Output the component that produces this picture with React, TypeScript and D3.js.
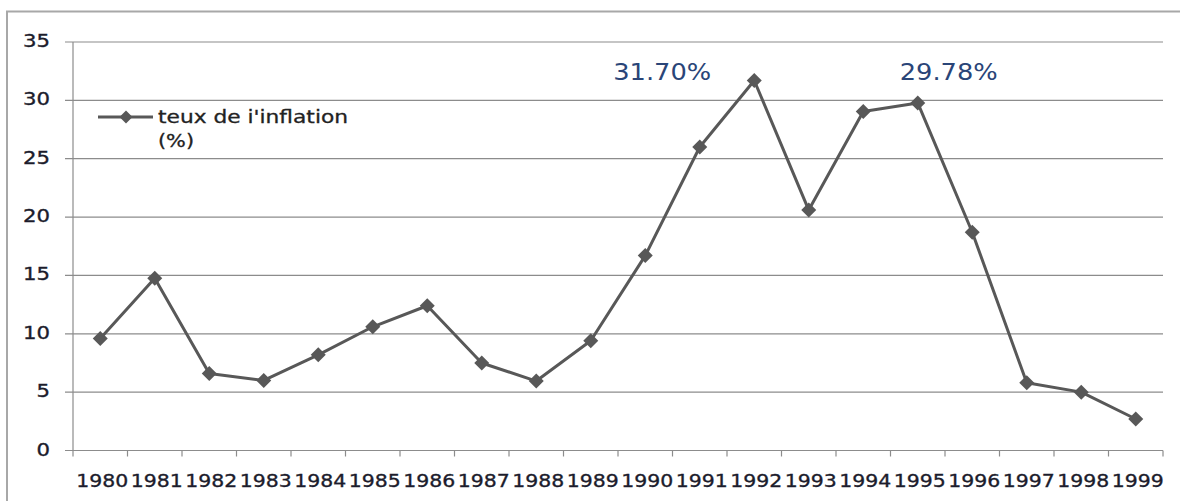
import React from "react";
import * as d3 from "d3";

// Annual inflation rate, 1980–1999
const years = [
  "1980", "1981", "1982", "1983", "1984", "1985", "1986", "1987", "1988", "1989",
  "1990", "1991", "1992", "1993", "1994", "1995", "1996", "1997", "1998", "1999",
];
const inflation = [
  9.6, 14.75, 6.6, 6.0, 8.2, 10.6, 12.4, 7.5, 5.95, 9.4,
  16.7, 26.0, 31.7, 20.6, 29.05, 29.78, 18.7, 5.8, 5.0, 2.7,
];
const yTicks = [0, 5, 10, 15, 20, 25, 30, 35];
const seriesName = ["teux de i'inflation", "(%)"];
// Peak callouts: year index and label text
const callouts = [
  { index: 12, text: "31.70%", dx: -92 },
  { index: 15, text: "29.78%", dx: 31 },
];

const W = 1180;
const H = 501;
const plot = { left: 73, right: 1163, top: 42, bottom: 450.5 };

export default function App() {
  const x = d3
    .scaleBand<string>()
    .domain(years)
    .range([plot.left, plot.right])
    .paddingInner(0)
    .paddingOuter(0);
  const y = d3.scaleLinear().domain([0, 35]).range([plot.bottom, plot.top]);
  const cx = (i: number) => (x(years[i]) as number) + x.bandwidth() / 2;

  const line = d3
    .line<number>()
    .x((_, i) => cx(i))
    .y((d) => y(d));

  const diamond = (px: number, py: number, r: number) =>
    `M${px},${py - r}L${px + r},${py}L${px},${py + r}L${px - r},${py}Z`;

  const grid = "#8c8c8c";
  const seriesColor = "#585858";
  const font = "'DejaVu Sans', Verdana, sans-serif";
  const ink = "#1c1c2c";

  const tickEdges = [...years.map((yr) => x(yr) as number), plot.right];

  return (
    <svg
      width={W}
      height={H}
      style={{ position: "absolute", left: 0, top: 0, background: "#fff" }}
    >
      <rect x={0} y={0} width={W} height={H} fill="#fff" />
      {/* chart frame */}
      <rect
        x={7}
        y={11.5}
        width={W + 20}
        height={H + 20}
        fill="none"
        stroke="#a8a8a8"
        strokeWidth={2}
      />

      {/* horizontal gridlines + y ticks */}
      {yTicks.map((t) => (
        <g key={t}>
          <line
            x1={plot.left - 8}
            x2={plot.right}
            y1={y(t)}
            y2={y(t)}
            stroke={grid}
            strokeWidth={1.2}
          />
          <text
            x={50}
            y={y(t) + 5}
            textAnchor="end"
            fontFamily={font}
            fontSize={18}
            fill={ink}
            stroke={ink}
            strokeWidth={0.35}
            textLength={String(t).length * 13.5}
            lengthAdjust="spacingAndGlyphs"
          >
            {t}
          </text>
        </g>
      ))}

      {/* y axis */}
      <line
        x1={plot.left}
        x2={plot.left}
        y1={plot.top}
        y2={plot.bottom}
        stroke={grid}
        strokeWidth={1.2}
      />

      {/* x ticks */}
      {tickEdges.map((tx, i) => (
        <line
          key={i}
          x1={tx}
          x2={tx}
          y1={plot.bottom}
          y2={plot.bottom + 6}
          stroke={grid}
          strokeWidth={1.2}
        />
      ))}

      {/* x labels */}
      {years.map((yr, i) => (
        <text
          key={yr}
          x={cx(i) + 2}
          y={487}
          textAnchor="middle"
          fontFamily={font}
          fontSize={18}
          fill={ink}
          stroke={ink}
          strokeWidth={0.35}
          textLength={52}
          lengthAdjust="spacingAndGlyphs"
        >
          {yr}
        </text>
      ))}

      {/* series line */}
      <path
        d={line(inflation) || ""}
        fill="none"
        stroke={seriesColor}
        strokeWidth={3}
        strokeLinejoin="round"
      />
      {inflation.map((v, i) => (
        <path key={i} d={diamond(cx(i), y(v), 7.5)} fill={seriesColor} />
      ))}

      {/* peak callouts */}
      {callouts.map((c) => (
        <text
          key={c.text}
          x={cx(c.index) + c.dx}
          y={80}
          textAnchor="middle"
          fontFamily={font}
          fontSize={23}
          fill="#2a4578"
          textLength={98}
          lengthAdjust="spacingAndGlyphs"
        >
          {c.text}
        </text>
      ))}

      {/* legend */}
      <line x1={98} x2={153} y1={117} y2={117} stroke={seriesColor} strokeWidth={3} />
      <path d={diamond(126, 117, 6.5)} fill={seriesColor} />
      <text
        x={158}
        y={122.5}
        fontFamily={font}
        fontSize={17}
        fill="#222"
        stroke="#222"
        strokeWidth={0.3}
        textLength={190}
        lengthAdjust="spacingAndGlyphs"
      >
        {seriesName[0]}
      </text>
      <text
        x={158}
        y={146.5}
        fontFamily={font}
        fontSize={17}
        fill="#222"
        stroke="#222"
        strokeWidth={0.3}
        textLength={36}
        lengthAdjust="spacingAndGlyphs"
      >
        {seriesName[1]}
      </text>
    </svg>
  );
}
